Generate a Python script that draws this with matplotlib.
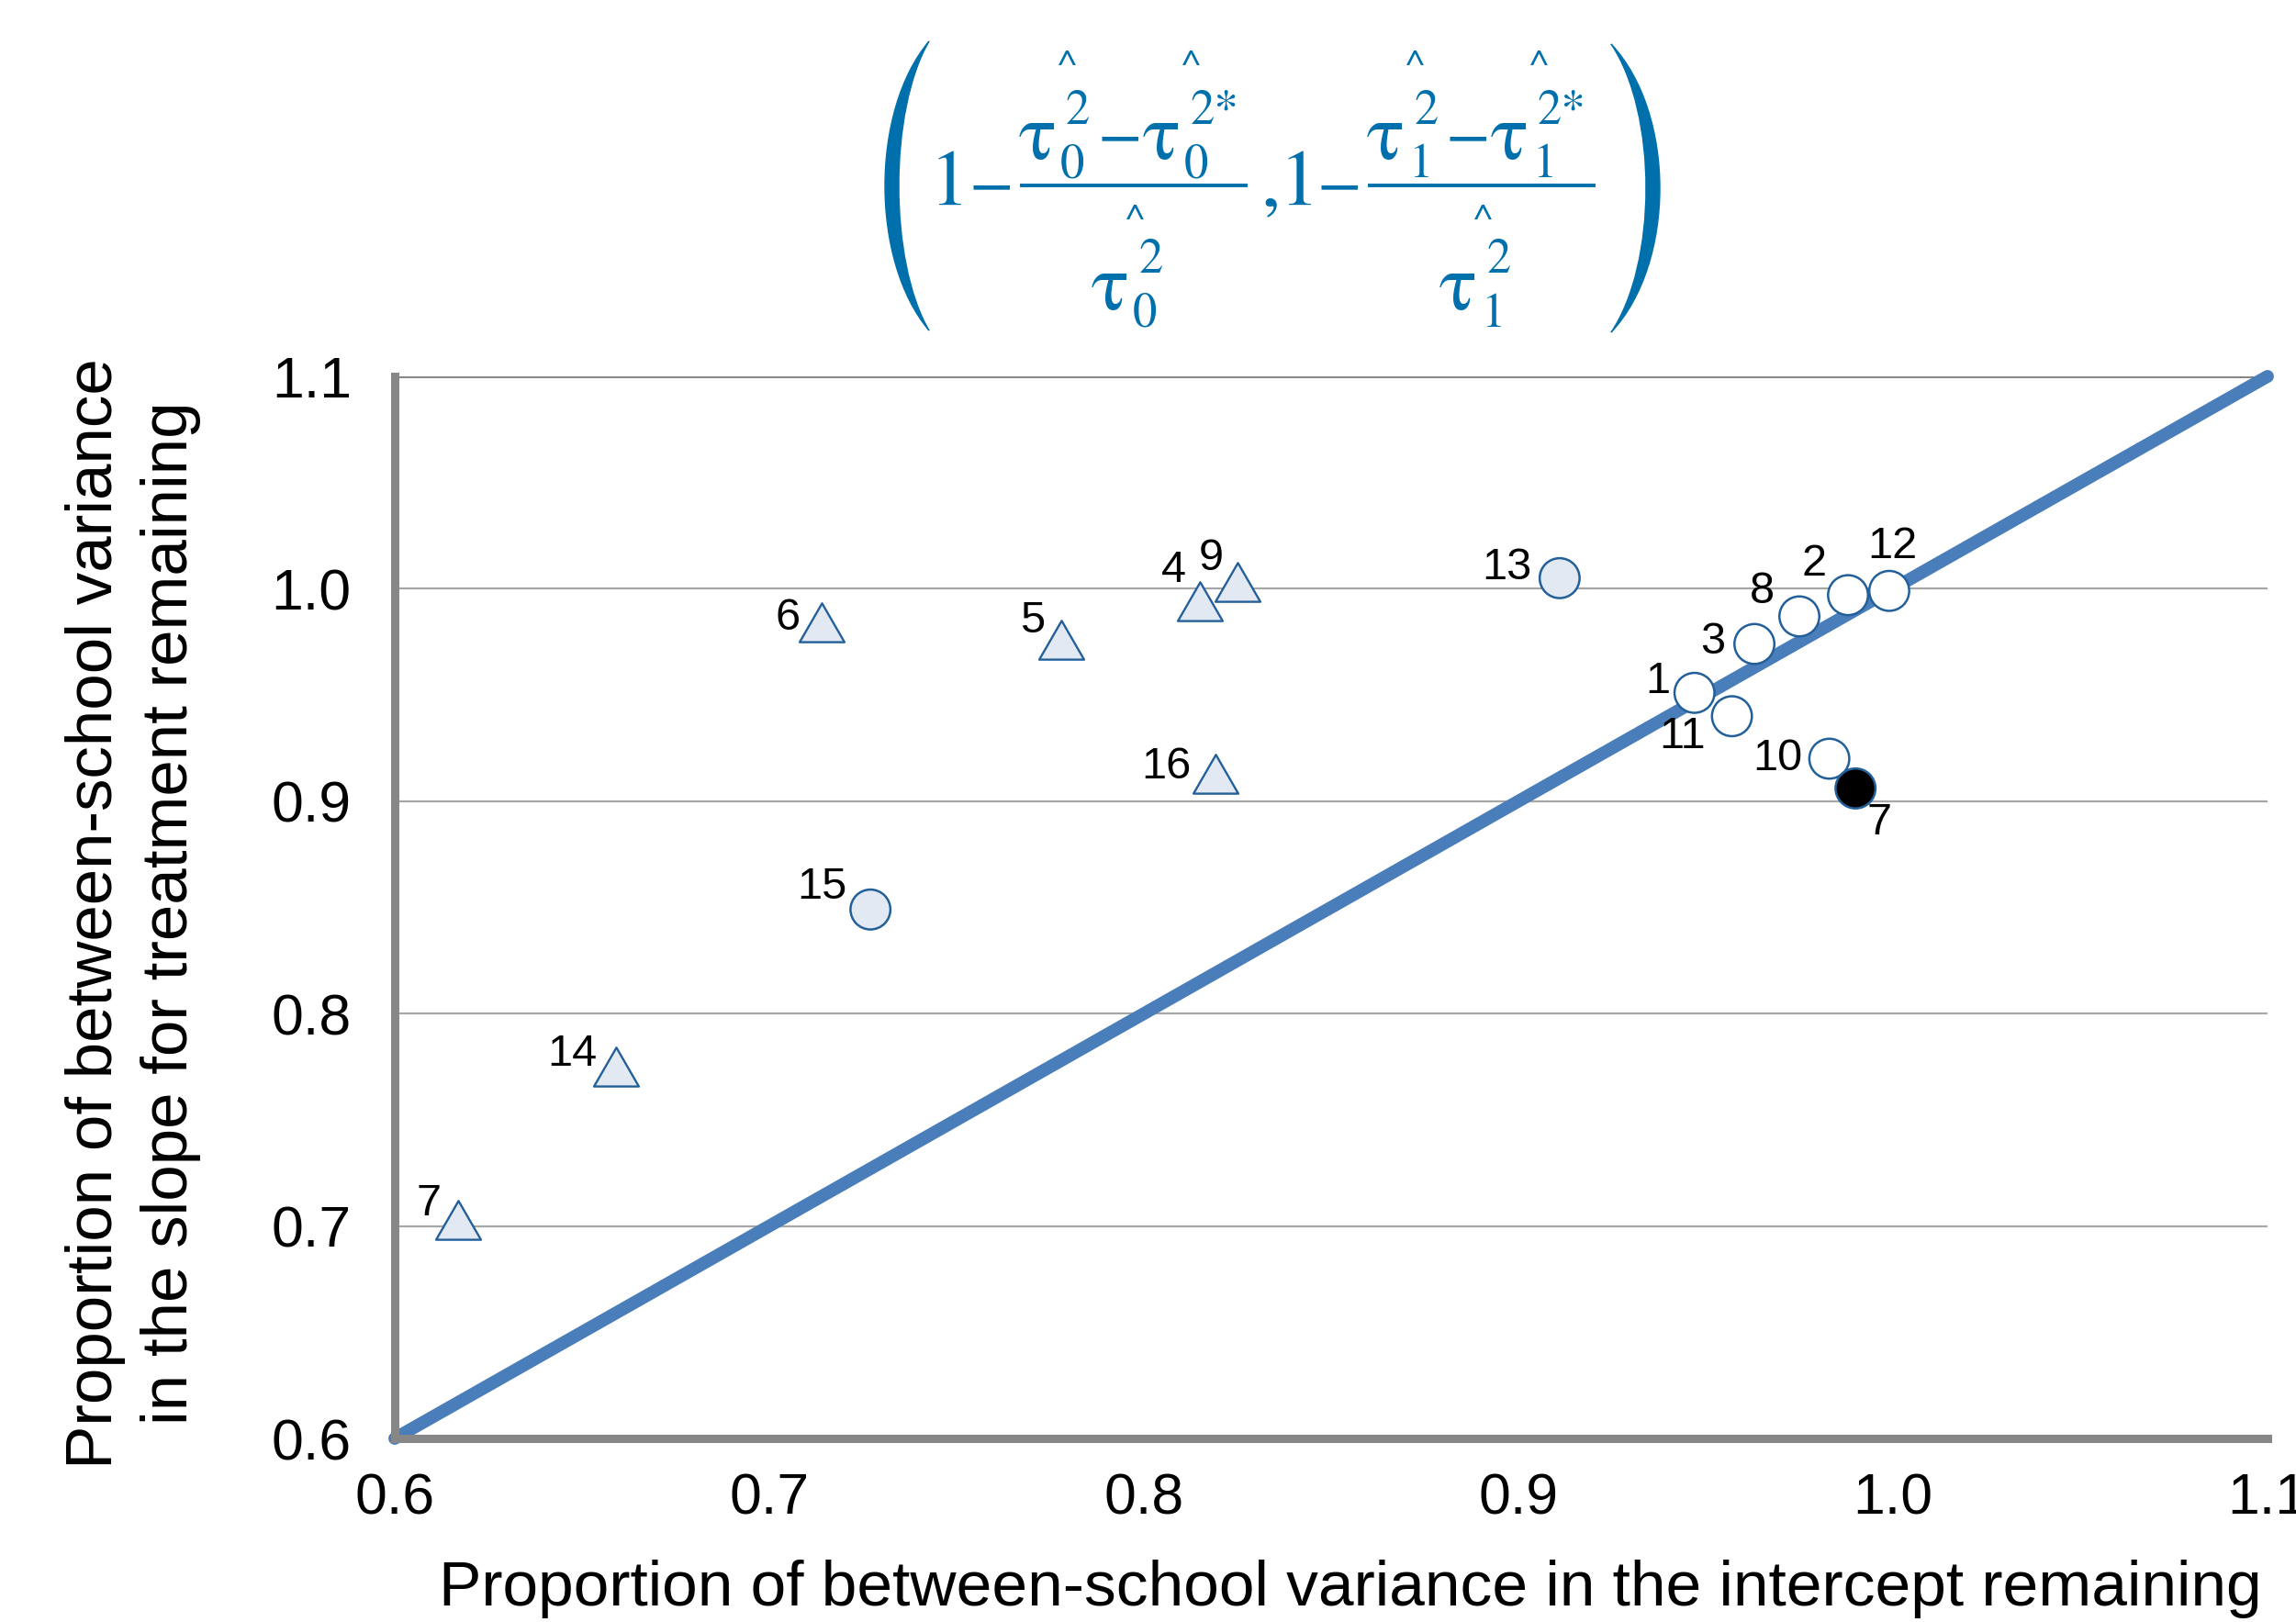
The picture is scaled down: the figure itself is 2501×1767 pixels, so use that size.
import matplotlib
matplotlib.use("Agg")
import matplotlib.pyplot as plt
from matplotlib.path import Path
from matplotlib.patches import PathPatch
from matplotlib.lines import Line2D

# ---------------- data ----------------
labels_circle = ["1", "2", "3", "8", "12", "11", "10", "7", "13", "15"]
x_circle = [0.947, 0.988, 0.963, 0.975, 0.999, 0.957, 0.983, 0.990, 0.911, 0.727]
y_circle = [0.951, 0.997, 0.974, 0.987, 0.999, 0.940, 0.920, 0.906, 1.005, 0.849]
fill_circle = ["white", "white", "white", "white", "white", "white", "white", "black", "light", "light"]

labels_tri = ["6", "5", "4", "9", "16", "14", "7"]
x_tri = [0.714, 0.778, 0.815, 0.825, 0.819, 0.659, 0.617]
y_tri = [0.981, 0.973, 0.991, 1.000, 0.910, 0.772, 0.700]

diag = [0.6, 1.1]
xticks = [0.6, 0.7, 0.8, 0.9, 1.0, 1.1]
yticks = [0.6, 0.7, 0.8, 0.9, 1.0, 1.1]
xtick_labels = ["0.6", "0.7", "0.8", "0.9", "1.0", "1.1"]
ytick_labels = ["0.6", "0.7", "0.8", "0.9", "1.0", "1.1"]

# label offsets (pixels, x right / y up)
off_circle = [(-40, 12), (-37, 34), (-45, 2), (-41, 27), (3, 48), (-54, -22), (-56, 0), (26, -38), (-58, 11), (-53, 24)]
off_tri = [(-37, 12), (-32, 27), (-29, 41), (-29, 33), (-53, 14), (-47, 20), (-32, 24)]

# ---------------- style ----------------
plt.rcParams['font.family'] = ['Liberation Sans', 'DejaVu Sans']
W, H = 2501, 1767
fig = plt.figure(figsize=(W / 100, H / 100), dpi=100)
ax = fig.add_axes([430 / W, 1 - 1567 / H, (2470 - 430) / W, (1567 - 410) / H])

edge = '#23609A'
light = '#E2E9F2'
fills = {"white": "white", "black": "black", "light": light}
axis_gray = '#878787'
grid_gray = '#A6A6A6'

ax.set_xlim(0.6, 1.1)
ax.set_ylim(0.6, 1.1)

for yv in yticks[1:]:
    ax.axhline(yv, color=grid_gray if yv < 1.1 else axis_gray, lw=1.6 if yv < 1.1 else 2.2, zorder=1)

ax.plot(diag, diag, color='#4A7EBB', lw=10, solid_capstyle='round', zorder=2, clip_on=False)

ax.scatter(x_tri, y_tri, s=1650, marker=(3, 0, 0),
           facecolor=light, edgecolor=edge, linewidths=1.7, zorder=3, clip_on=False)
ax.scatter(x_circle, y_circle, s=980, marker='o',
           facecolor=[fills[f] for f in fill_circle], edgecolor=edge, linewidths=1.8,
           zorder=4, clip_on=False)

for lab, x, y, (dx, dy) in zip(labels_circle, x_circle, y_circle, off_circle):
    ax.annotate(lab, (x, y), xytext=(dx, dy), textcoords='offset pixels',
                ha='center', va='center', fontsize=35, color='black', zorder=5)
for lab, x, y, (dx, dy) in zip(labels_tri, x_tri, y_tri, off_tri):
    ax.annotate(lab, (x, y), xytext=(dx, dy), textcoords='offset pixels',
                ha='center', va='center', fontsize=35, color='black', zorder=5)

for side in ['top', 'right']:
    ax.spines[side].set_visible(False)
for side in ['left', 'bottom']:
    ax.spines[side].set_color(axis_gray)
    ax.spines[side].set_linewidth(6.5)
    ax.spines[side].set_zorder(2.5)

ax.set_xticks(xticks)
ax.set_xticklabels(xtick_labels)
ax.set_yticks(yticks)
ax.set_yticklabels(ytick_labels)
ax.tick_params(axis='both', length=0, labelsize=45, colors='black')
ax.tick_params(axis='x', pad=26)
ax.tick_params(axis='y', pad=34)
for t in ax.get_xticklabels():
    t.set_clip_on(False)

fig.text(1471 / W, 1 - 1731 / H, "Proportion of between-school variance in the intercept remaining",
         ha='center', va='center', fontsize=50)
fig.text(145 / W, 1 - 995 / H, "Proportion of between-school variance\nin the slope for treatment remaining",
         ha='center', va='center', fontsize=51, rotation=90, linespacing=1.33, multialignment='center')

# ---------------- formula (built from text pieces) ----------------
fcol = '#0070AD'
serif = ['STIXGeneral', 'Liberation Serif', 'DejaVu Serif']
BIG, SMALL, HAT, MINUS = 62, 38, 32, 51


def ftxt(x, y, s, size, ha='left'):
    fig.text(x / W, 1 - y / H, s, fontsize=size, color=fcol, family=serif,
             ha=ha, va='baseline')


def bar(x0, x1, y):
    fig.add_artist(Line2D([x0 / W, x1 / W], [1 - y / H, 1 - y / H], transform=fig.transFigure,
                          color=fcol, lw=2.8))


def paren(xe, xb, ytop, ybot, thick):
    # xe: x of the tips, xb: x of the outer bulge
    sgn = 1 if xb > xe else -1
    c_out = (8 * xb - 2 * xe) / 6
    xb_in = xb - sgn * thick
    c_in = (8 * xb_in - 2 * xe) / 6
    h = ybot - ytop
    verts = [(xe, ytop), (c_out, ytop + 0.24 * h), (c_out, ybot - 0.24 * h), (xe, ybot),
             (c_in, ybot - 0.24 * h), (c_in, ytop + 0.24 * h), (xe, ytop), (xe, ytop)]
    codes = [Path.MOVETO, Path.CURVE4, Path.CURVE4, Path.CURVE4,
             Path.CURVE4, Path.CURVE4, Path.CURVE4, Path.CLOSEPOLY]
    verts = [(vx / W, 1 - vy / H) for vx, vy in verts]
    fig.add_artist(PathPatch(Path(verts, codes), transform=fig.transFigure,
                             facecolor=fcol, edgecolor=fcol, lw=1))


paren(1012, 964, 45, 360, 15)
paren(1755, 1808, 48, 362, 15)

ftxt(1013, 223, "1", BIG)
ftxt(1080, 221, "\u2212", MINUS, ha='center')
bar(1113, 1357, 202)
for (tx, sub, sup) in [(1110, "0", "2"), (1245, "0", "2*")]:
    ftxt(tx, 173, "\u03c4", BIG)
    ftxt(tx + 45, 193, sub, SMALL)
    ftxt(tx + 51, 135, sup, SMALL)
    ftxt(tx + 52, 84, "^", HAT, ha='center')
ftxt(1220, 168, "\u2212", MINUS, ha='center')
ftxt(1189, 337, "\u03c4", BIG)
ftxt(1234, 356, "0", SMALL)
ftxt(1240, 297, "2", SMALL)
ftxt(1236, 252, "^", HAT, ha='center')

ftxt(1373, 223, ",", BIG)
ftxt(1393, 223, "1", BIG)
ftxt(1459, 221, "\u2212", MINUS, ha='center')
bar(1492, 1736, 202)
for (tx, sub, sup) in [(1489, "1", "2"), (1624, "1", "2*")]:
    ftxt(tx, 173, "\u03c4", BIG)
    ftxt(tx + 45, 193, sub, SMALL)
    ftxt(tx + 51, 135, sup, SMALL)
    ftxt(tx + 52, 84, "^", HAT, ha='center')
ftxt(1599, 168, "\u2212", MINUS, ha='center')
ftxt(1568, 337, "\u03c4", BIG)
ftxt(1613, 356, "1", SMALL)
ftxt(1619, 297, "2", SMALL)
ftxt(1615, 252, "^", HAT, ha='center')

fig.savefig('out.png', dpi=100)
